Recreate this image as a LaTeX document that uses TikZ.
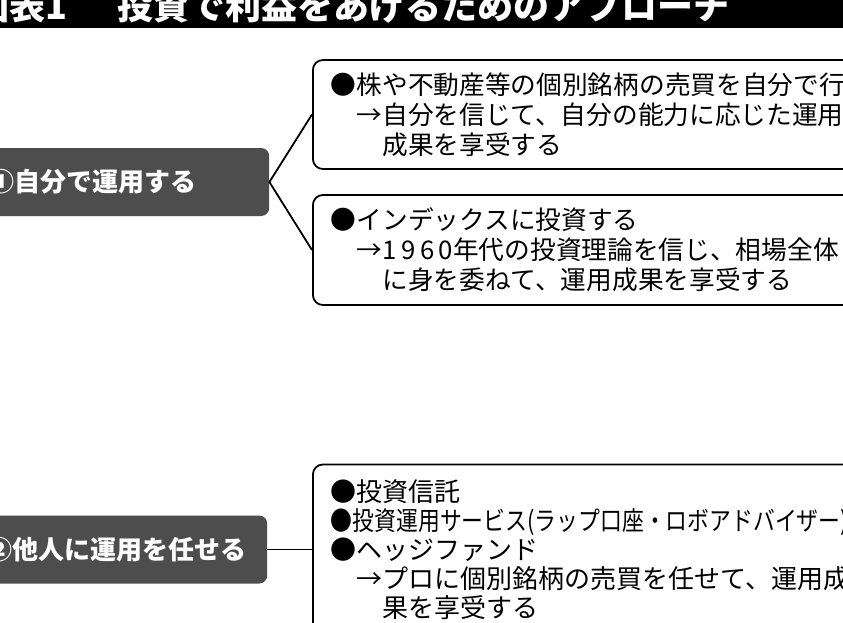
\documentclass[tikz,border=0pt]{standalone}
\usepackage{fontspec}
\newfontfamily\jp{Noto Sans CJK JP}
\definecolor{boxgray}{RGB}{77,77,77}
\tikzset{
  leftbox/.style={fill=boxgray, text=white, rounded corners=8pt, minimum height=68pt,
    inner xsep=10pt, text width=271pt, align=left, anchor=west,
    font=\jp\bfseries\fontsize{26}{30}\selectfont},
  itembox/.style={draw, line width=1.8pt, rounded corners=10pt, anchor=west,
    inner xsep=18pt, text width=700pt, align=left},
  link/.style={line width=1.8pt}
}

\begin{document}
\begin{tikzpicture}[x=1pt,y=-1pt]
		\useasboundingbox (0,0) rectangle (843,622);
		\clip (0,0) rectangle (843,622);
		\fill[white] (0,0) rectangle (843,622);

		% title bar
		\fill[black] (0,0) rectangle (843,27.5);
		\node[anchor=base west, inner sep=0pt, text=white, font=\jp\bfseries\fontsize{36}{36}\selectfont] (title) at (-27,19) {図表1\hspace{1.4em}投資で利益をあげるためのアプローチ};

		% (1) do it yourself
		\node[leftbox] (self) at (-22,182) {①自分で運用する};
		\node[itembox, minimum height=109pt, font=\jp\fontsize{25.7}{30}\selectfont] (stock) at (312,114.5)
			{●株や不動産等の個別銘柄の売買を自分で行う\\
			 \hspace*{1em}→自分を信じて、自分の能力に応じた運用\\
			 \hspace*{2em}成果を享受する};
		\node[itembox, minimum height=110pt, font=\jp\fontsize{25.7}{30}\selectfont] (index) at (312,250)
			{●インデックスに投資する\\
			 \hspace*{1em}→{\addfontfeature{LetterSpace=18}1960}年代の投資理論を信じ、相場全体\\
			 \hspace*{2em}に身を委ねて、運用成果を享受する};

		\draw[link] (self.east) -- (stock.west);
		\draw[link] (self.east) -- (index.west);

		% (2) leave it to others
		\node[leftbox] (others) at (-24,549.5) {②他人に運用を任せる};
		\node[itembox, minimum height=170pt, font=\jp\fontsize{26}{29}\selectfont] (fund) at (312,549.5)
			{●投資信託\\
			 {\addfontfeature{FakeStretch=0.84}●投資運用サービス(ラップ口座・ロボアドバイザー)}\\
			 ●ヘッジファンド\\
			 \hspace*{1em}→プロに個別銘柄の売買を任せて、運用成\\
			 \hspace*{2em}果を享受する};

		\draw[link] (others.east) -- (fund.west);
\end{tikzpicture}
\end{document}
